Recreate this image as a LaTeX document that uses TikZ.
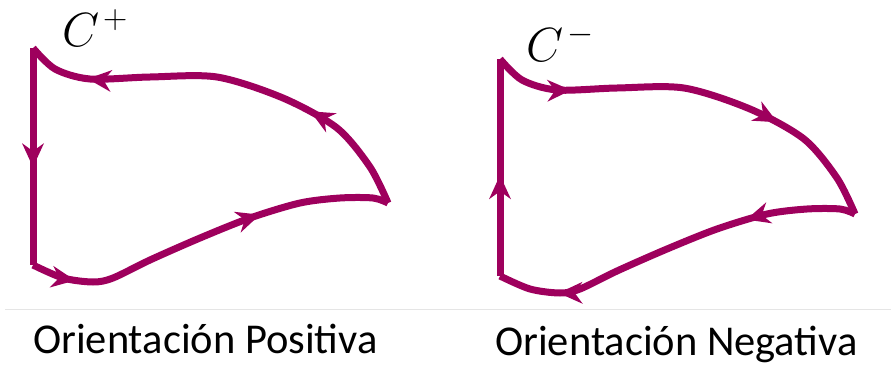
\RequirePackage{fix-cm}
\documentclass[tikz,border=0pt]{standalone}
\usepackage{fontspec}
\setmainfont{Carlito}
\usetikzlibrary{decorations.markings}
\definecolor{contorno}{RGB}{158,0,93}
\tikzset{
  curva/.style={draw=contorno,line width=7pt},
  marca/.style={postaction={decorate,decoration={markings,
      mark=at position #1 with {\fill[contorno] (2pt,0pt) -- (-22pt,-11pt) -- (-14pt,0pt) -- (-22pt,11pt) -- cycle;}}}},
  rotulo/.style={font=\fontsize{42.5}{50}\selectfont,anchor=base west,inner sep=0pt},
  nombre/.style={font=\fontsize{48}{54}\selectfont,anchor=base west,inner sep=0pt},
}

\begin{document}
\begin{tikzpicture}[x=1pt,y=-1pt]
\useasboundingbox (0,0) rectangle (891,364);
% orientacion positiva
\coordinate (A) at (33,48);
\coordinate (B) at (388,203);
\coordinate (D) at (33,265);
\draw[curva,marca=0.54] (A) -- (D);
\draw[curva,marca=0.115,marca=0.645] plot[smooth] coordinates {(D) (63,278) (93,282) (113,278) (150,260) (200,238) (250,218) (300,203) (340,198) (373,198) (B)};
\draw[curva,marca=0.29,marca=0.84] plot[smooth] coordinates {(B) (370,167) (337,128) (283,98) (217,77) (150,77) (90,79) (55,69) (A)};
\node[nombre] (cmas) at (62,46) {$C^{\mkern2mu+}$};
% orientacion negativa
\begin{scope}[shift={(467,11)}]
\coordinate (A2) at (33,48);
\coordinate (B2) at (388,203);
\coordinate (D2) at (33,265);
\draw[curva,marca=0.455] (D2) -- (A2);
\draw[curva,marca=0.19,marca=0.70] plot[smooth] coordinates {(A2) (55,69) (90,79) (150,77) (217,77) (283,98) (337,128) (370,167) (B2)};
\draw[curva,marca=0.29,marca=0.83] plot[smooth] coordinates {(B2) (373,198) (340,198) (300,203) (250,218) (200,238) (150,260) (113,278) (93,282) (63,278) (D2)};
\end{scope}
\node[nombre] (cmenos) at (526,61) {$C^{\mkern2mu-}$};
\draw[gray!20,line width=1pt] (5,309) -- (891,309);
\node[rotulo] (pos) at (33,353) {Orientación Positiva};
\node[rotulo] (neg) at (495,355) {Orientación Negativa};
\end{tikzpicture}
\end{document}
